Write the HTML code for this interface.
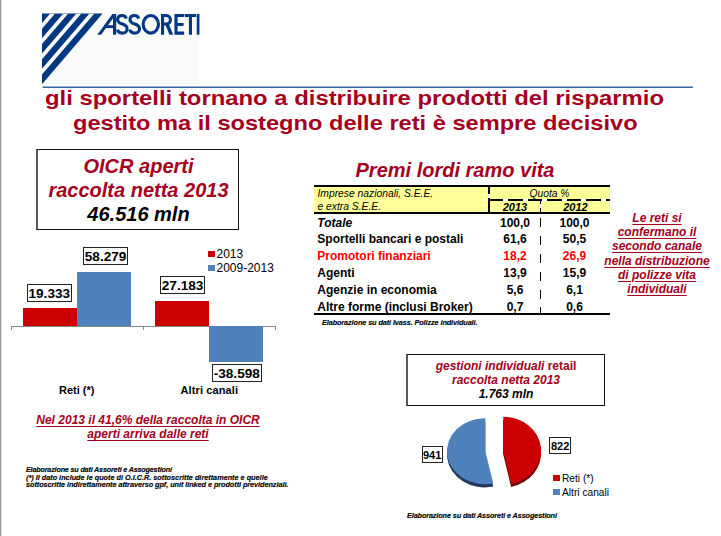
<!DOCTYPE html>
<html><head><meta charset="utf-8">
<style>
*{margin:0;padding:0;box-sizing:border-box}
html,body{width:721px;height:536px;overflow:hidden;background:#fff}
body{position:relative;font-family:"Liberation Sans",sans-serif;color:#000}
.a{position:absolute;white-space:nowrap}
.c{text-align:center}
.bi{font-weight:bold;font-style:italic}
.b{font-weight:bold}
.i{font-style:italic}
.dr{color:#A50021}
.box{position:absolute;border:1.5px solid #222;background:#fff}
.lbl{position:absolute;border:1.3px solid #222;background:#fff;font-weight:bold;font-size:13.6px;line-height:15px;padding-top:1px;text-align:center}
.sq{position:absolute;width:7px;height:6px}
.fn{-webkit-text-stroke:0.15px #000}
</style></head><body>
<div class="a" style="left:0;top:0;width:1px;height:536px;background:#979797"></div><div class="a" style="left:1px;top:0;width:1px;height:536px;background:#dedede"></div>

<!-- logo -->
<svg class="a" style="left:0;top:0" width="721" height="100" viewBox="0 0 721 100">
  <rect x="42" y="13.5" width="157" height="71" fill="#fafafb"/>
  <defs>
    <clipPath id="tri"><polygon points="42,13.5 102.6,13.5 42,84.2"/></clipPath>
  </defs>
  <g clip-path="url(#tri)">
    <rect x="40" y="10" width="70" height="80" fill="#003882"/>
    <g fill="#fff">
      <polygon points="50.2,13.5 55.1,13.5 -5.6,84.2 -10.5,84.2"/>
      <polygon points="63.3,13.5 68.2,13.5 7.5,84.2 2.6,84.2"/>
      <polygon points="76.4,13.5 81.3,13.5 20.6,84.2 15.7,84.2"/>
      <polygon points="89.5,13.5 94.4,13.5 33.7,84.2 28.8,84.2"/>
    </g>
  </g>
  <g fill="#003882">
    <polygon points="97.3,34.7 101.1,34.7 116.2,14 112.4,14"/>
    <rect x="113" y="14" width="3.2" height="20.7"/>
    <rect x="104" y="25.2" width="9.5" height="2.9"/>
    <polygon points="165.2,24.2 168.9,24.2 173.2,34.7 169.5,34.7"/>
  </g>
  <g fill="none" stroke="#003882" stroke-width="3.1">
    <path d="M126.3,18.6 C125.6,16.4 124.2,15.55 122.2,15.55 C119.6,15.55 117.6,16.9 117.6,19.6 C117.6,22.6 120.2,23.4 122.4,24.1 C125,24.9 127.1,25.9 127.1,28.9 C127.1,31.6 125,33.15 122.2,33.15 C119.6,33.15 118,31.9 117.3,29.6"/>
    <path d="M138.7,18.6 C138,16.4 136.6,15.55 134.6,15.55 C132,15.55 130,16.9 130,19.6 C130,22.6 132.6,23.4 134.8,24.1 C137.4,24.9 139.5,25.9 139.5,28.9 C139.5,31.6 137.4,33.15 134.6,33.15 C132,33.15 130.4,31.9 129.7,29.6"/>
    <ellipse cx="150.8" cy="24.35" rx="7.65" ry="8.8"/>
    <path d="M162.55,34.7 V15.55 H166.2 A4.25,4.25 0 0 1 166.2,24.05 H162.55"/>
    <path d="M184.2,15.55 H176 V33.15 H184.2 M176,24.5 H183.6"/>
    <path d="M184.8,15.55 H196.1 M190.45,15.55 V34.7"/>
    <path d="M198.1,14 V34.7" stroke-width="2.7"/>
  </g>
  <rect x="42.5" y="86.5" width="650.5" height="1.5" fill="#3566A6"/>
</svg>

<!-- title -->
<div class="a b" style="left:45px;top:85px;font-size:21px;line-height:25px;color:#A50021;transform-origin:0 0;transform:scaleX(1.136)">gli sportelli tornano a distribuire prodotti del risparmio</div>
<div class="a b" style="left:72.5px;top:110px;font-size:21px;line-height:25px;color:#A50021;transform-origin:0 0;transform:scaleX(1.125)">gestito ma il sostegno delle reti è sempre decisivo</div>

<!-- OICR box -->
<div class="box" style="left:36px;top:149px;width:203px;height:81px;border:1px solid #111;border-left:2px solid #5a5a5a"></div>
<div class="a c bi" style="left:37px;top:149px;width:203px;font-size:20px;line-height:23.7px;padding-top:6.2px">
<span class="dr">OICR aperti</span><br><span class="dr">raccolta netta 2013</span><br><span>46.516 mln</span></div>

<!-- bar chart -->
<div class="a" style="left:11px;top:325.5px;width:265px;height:1px;background:#868686"></div>
<div class="a" style="left:11px;top:325.5px;width:1px;height:4px;background:#868686"></div>
<div class="a" style="left:143px;top:325.5px;width:1px;height:4px;background:#868686"></div>
<div class="a" style="left:275px;top:325.5px;width:1px;height:4px;background:#868686"></div>
<div class="a" style="left:23px;top:307.7px;width:54px;height:18.3px;background:#CC0000"></div>
<div class="a" style="left:77px;top:271.5px;width:54px;height:54.5px;background:#4F81BD"></div>
<div class="a" style="left:155px;top:301px;width:54px;height:25px;background:#CC0000"></div>
<div class="a" style="left:209px;top:326px;width:54.4px;height:36px;background:#4F81BD"></div>

<div class="lbl" style="left:26.8px;top:284px;width:45px;height:17.7px">19.333</div>
<div class="lbl" style="left:83.2px;top:247.3px;width:44.8px;height:18.1px">58.279</div>
<div class="lbl" style="left:160.1px;top:276.4px;width:45px;height:17.2px">27.183</div>
<div class="lbl" style="left:211.7px;top:364.3px;width:50.2px;height:17.9px;padding-top:0.3px">-38.598</div>

<div class="sq" style="left:208px;top:251px;background:#CC0000"></div>
<div class="a" style="left:216.5px;top:247px;font-size:12px;line-height:14px">2013</div>
<div class="sq" style="left:208px;top:265px;background:#4F81BD"></div>
<div class="a" style="left:216.5px;top:261px;font-size:12px;line-height:14px">2009-2013</div>

<div class="a b" style="left:59px;top:382.8px;font-size:11px;line-height:14px">Reti (*)</div>
<div class="a b" style="left:180.5px;top:382.8px;font-size:11px;line-height:14px;letter-spacing:0.12px">Altri canali</div>

<div class="a c bi dr" style="left:36px;top:412.8px;width:224px;font-size:12px;line-height:14.3px;text-decoration:underline;text-underline-offset:1.6px">Nel 2013 il 41,6% della raccolta in OICR<br>aperti arriva dalle reti</div>

<div class="a bi fn" style="left:26px;top:465.5px;font-size:7.2px;line-height:8px;letter-spacing:-0.17px">Elaborazione su dati Assoreti e Assogestioni</div>
<div class="a bi fn" style="left:26px;top:474px;font-size:7.3px;line-height:7px;letter-spacing:-0.01px">(*) Il dato include le quote di O.I.C.R. sottoscritte direttamente e quelle<br><span style="letter-spacing:-0.06px">sottoscritte indirettamente attraverso gpf, unit linked e prodotti previdenziali.</span></div>

<!-- table -->
<div class="a c bi dr" style="left:355px;top:159px;width:200px;font-size:20px;line-height:23px">Premi lordi ramo vita</div>
<div class="a" style="left:314px;top:185px;width:296px;height:2px;background:#000"></div>
<div class="a" style="left:314px;top:187px;width:296px;height:25px;background:#FFFF99"></div>
<div class="a" style="left:488px;top:187px;width:2px;height:25px;background:linear-gradient(#000 0 7px,#fff 7px 11px,#000 11px)"></div>
<div class="a" style="left:488.5px;top:199px;width:121.5px;height:2px;background:repeating-linear-gradient(to right,#000 0 14.5px,#fff 14.5px 19.5px)"></div>
<div class="a" style="left:539.8px;top:201px;width:1.4px;height:11px;background:linear-gradient(#000 0 3px,#fff 3px 6.5px,#000 6.5px)"></div>
<div class="a" style="left:314px;top:212px;width:296px;height:2px;background:#000"></div>
<div class="a" style="left:539.8px;top:218px;width:1.5px;height:95px;background:repeating-linear-gradient(to bottom,#000 0 9px,transparent 9px 17.9px)"></div>
<div class="a" style="left:314px;top:313px;width:296px;height:2px;background:#000"></div>

<div class="a i" style="left:317.5px;top:188.2px;font-size:10.3px;line-height:12.8px">Imprese nazionali, S.E.E.<br>e extra S.E.E.</div>
<div class="a c i" style="left:489.5px;top:188.4px;width:120px;font-size:10.3px;line-height:12px">Quota %</div>
<div class="a c bi" style="left:490px;top:201px;width:50px;font-size:11px;line-height:12px">2013</div>
<div class="a c bi" style="left:541px;top:201px;width:69px;font-size:11px;line-height:12px">2012</div>

<div class="a b" style="left:317.3px;top:214.5px;font-size:12px;line-height:16.85px">
<i>Totale</i><br>Sportelli bancari e postali<br><span style="color:#FF0000">Promotori finanziari</span><br>Agenti<br>Agenzie in economia<br>Altre forme (inclusi Broker)</div>
<div class="a c b" style="left:490px;top:214.5px;width:50px;font-size:12px;line-height:16.85px">100,0<br>61,6<br><span style="color:#FF0000">18,2</span><br>13,9<br>5,6<br>0,7</div>
<div class="a c b" style="left:541px;top:214.5px;width:67px;font-size:12px;line-height:16.85px">100,0<br>50,5<br><span style="color:#FF0000">26,9</span><br>15,9<br>6,1<br>0,6</div>

<div class="a bi fn" style="left:322px;top:319px;font-size:7.3px;line-height:8px;letter-spacing:-0.1px">Elaborazione su dati Ivass. Polizze individuali.</div>

<div class="a c bi dr" style="left:600px;top:210.8px;width:114px;font-size:12px;line-height:14.3px;text-decoration:underline;text-underline-offset:2px">Le reti si<br>confermano il<br>secondo canale<br>nella distribuzione<br>di polizze vita<br>individuali</div>

<!-- gestioni box -->
<div class="box" style="left:406px;top:354px;width:199px;height:52px;border:1px solid #111;border-left:2px solid #5a5a5a"></div>
<div class="a c bi" style="left:407px;top:360.2px;width:198px;font-size:12px;line-height:13.9px">
<span class="dr">gestioni individuali <span style="font-style:normal">retail</span></span><br><span class="dr">raccolta netta 2013</span><br>1.763 mln</div>

<!-- pie -->
<svg class="a" style="left:400px;top:400px" width="221" height="100" viewBox="400 400 221 100">
  <path transform="translate(0,3.2)" d="M485.3,451.2 L485.3,418.2 A38,33 0 1 0 493.3,483.4 Z" fill="#22395C"/>
  <path transform="translate(-0.2,3)" d="M503.3,450.7 L503.3,416.7 A38,34 0 0 1 511.3,483.9 Z" fill="#6A0000"/>
  <path d="M485.3,451.2 L485.3,418.2 A38,33 0 1 0 493.3,483.4 Z" fill="#4F81BD"/>
  <path d="M503.3,450.7 L503.3,416.7 A38,34 0 0 1 511.3,483.9 Z" fill="#CC0000"/>
</svg>
<div class="lbl" style="left:421.6px;top:446.3px;width:21.2px;height:16.4px;font-size:11px;line-height:14px">941</div>
<div class="lbl" style="left:549.3px;top:437.2px;width:21.7px;height:16.4px;font-size:11px;line-height:14px;padding-top:0.4px">822</div>
<div class="sq" style="left:553px;top:475px;background:#CC0000"></div>
<div class="a" style="left:562px;top:472px;font-size:10.2px;line-height:13px">Reti (*)</div>
<div class="sq" style="left:553px;top:489px;background:#4F81BD"></div>
<div class="a" style="left:562px;top:486px;font-size:10.2px;line-height:13px">Altri canali</div>

<div class="a bi fn" style="left:407px;top:512px;font-size:7.3px;line-height:8px;letter-spacing:-0.13px">Elaborazione su dati Assoreti e Assogestioni</div>
</body></html>
